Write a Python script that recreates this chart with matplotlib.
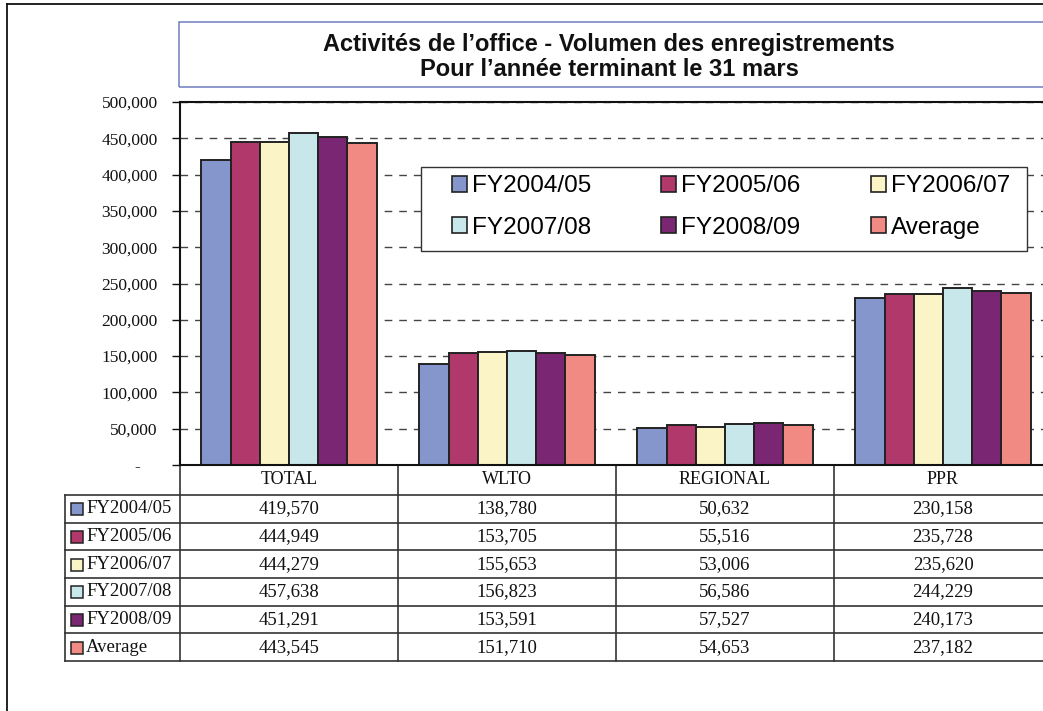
import numpy as np
import matplotlib
matplotlib.use('Agg')
import matplotlib.pyplot as plt
from matplotlib.patches import Patch, Rectangle
from matplotlib.lines import Line2D
from matplotlib.ticker import FuncFormatter, MultipleLocator
from matplotlib.transforms import blended_transform_factory

# donnees
categories = ['TOTAL', 'WLTO', 'REGIONAL', 'PPR']
series_names = ['FY2004/05', 'FY2005/06', 'FY2006/07', 'FY2007/08', 'FY2008/09', 'Average']
fy2004_05 = [419570, 138780, 50632, 230158]
fy2005_06 = [444949, 153705, 55516, 235728]
fy2006_07 = [444279, 155653, 53006, 235620]
fy2007_08 = [457638, 156823, 56586, 244229]
fy2008_09 = [451291, 153591, 57527, 240173]
average = [443545, 151710, 54653, 237182]
series_values = [fy2004_05, fy2005_06, fy2006_07, fy2007_08, fy2008_09, average]
colors = ['#8596cc', '#b0386b', '#faf4c6', '#c8e7ea', '#7a2673', '#f28a84']

title = 'Activités de l’office - Volumen des enregistrements\nPour l’année terminant le 31 mars'

SANS = 'Liberation Sans'
SERIF = 'Liberation Serif'
LINE = '#333333'

W, H = 1043, 711
def fx(px):
    return px / W
def fy(py):
    return 1 - py / H

fig = plt.figure(figsize=(W / 100, H / 100), dpi=100)
fig.patch.set_facecolor('white')

# cadre exterieur
fig.add_artist(Line2D([fx(7), fx(7)], [fy(4), fy(720)], color='#111111', lw=1.3))
fig.add_artist(Line2D([fx(7), fx(1060)], [fy(4), fy(4)], color='#111111', lw=1.3))

# titre
fig.add_artist(Rectangle((fx(179), fy(87)), (1060 - 179) / W, (87 - 22) / H,
                         transform=fig.transFigure, facecolor='none',
                         edgecolor='#6f7fbf', lw=1.1))
fig.text(fx(609), fy(57), title, ha='center', va='center', fontsize=17,
         fontweight='bold', family=SANS, linespacing=1.15, color='#111111')

ax = fig.add_axes([fx(180), fy(465), (1052 - 180) / W, (465 - 102) / H])

n = len(series_names)
width = 0.134
x = np.arange(len(categories))
for i, (name, vals) in enumerate(zip(series_names, series_values)):
    ax.bar(x + (i - (n - 1) / 2) * width, vals, width, color=colors[i],
           edgecolor='#222222', linewidth=1.4, zorder=2, label=name)

ax.set_xlim(-0.5, len(categories) - 0.5)
ax.set_ylim(0, 500000)
ax.yaxis.set_major_locator(MultipleLocator(50000))
ax.yaxis.set_major_formatter(FuncFormatter(lambda v, p: '-    ' if v == 0 else f'{v:,.0f}'))
ax.set_xticks([])
ax.tick_params(axis='y', length=6, width=1, pad=10, labelsize=12.5, colors='#111111')
for lab in ax.get_yticklabels():
    lab.set_family(SERIF)
ax.set_axisbelow(True)
ax.yaxis.grid(True, color='#444444', lw=1.0, dashes=(5.5, 5))
for s in ['left', 'top', 'bottom']:
    ax.spines[s].set_color('#111111')
    ax.spines[s].set_linewidth(1.5)
ax.spines['right'].set_visible(False)

# legende (3 colonnes, remplie ligne par ligne)
ax.add_patch(Rectangle((fx(421), fy(251)), (1027 - 421) / W, (251 - 167) / H,
                       transform=fig.transFigure, facecolor='white',
                       edgecolor=LINE, lw=1.0, zorder=4, clip_on=False))
handles = [Patch(facecolor=c, edgecolor='#222222', lw=1.2) for c in colors]
order = [0, 3, 1, 4, 2, 5]
ax.legend([handles[k] for k in order], [series_names[k] for k in order],
          ncol=3, loc='center',
          bbox_to_anchor=(fx(731), fy(207)), bbox_transform=fig.transFigure,
          frameon=False, prop={'family': SANS, 'size': 17.5},
          handlelength=0.62, handleheight=0.62, handletextpad=0.2,
          columnspacing=2.9, labelspacing=0.8)

# tableau de donnees
tr = blended_transform_factory(ax.transData, fig.transFigure)
head_top, head_bot, tab_bot = 465, 495, 661
row_h = (tab_bot - head_bot) / n
bounds = np.arange(len(categories) + 1) - 0.5
for b in bounds:
    ax.plot([b, b], [fy(head_top), fy(tab_bot)], transform=tr, clip_on=False,
            color=LINE, lw=1.2)
for k in range(n + 1):
    yy = fy(head_bot + k * row_h)
    ax.plot([fx(65), fx(1060)], [yy, yy], transform=fig.transFigure,
            clip_on=False, color=LINE, lw=1.2)
ax.plot([fx(65), fx(65)], [fy(head_bot), fy(tab_bot)], transform=fig.transFigure,
        clip_on=False, color=LINE, lw=1.2)

for i, cat in enumerate(categories):
    ax.text(i, fy((head_top + head_bot) / 2), cat, transform=tr, ha='center',
            va='center', family=SERIF, fontsize=13, color='#111111')

for r, (name, vals) in enumerate(zip(series_names, series_values)):
    yc = head_bot + (r + 0.5) * row_h
    for i, v in enumerate(vals):
        ax.text(i, fy(yc), f'{v:,}', transform=tr, ha='center', va='center',
                family=SERIF, fontsize=13.5, color='#111111')
    ax.add_patch(Rectangle((fx(71), fy(yc + 6.5)), 12 / W, 12 / H,
                           transform=fig.transFigure, facecolor=colors[r],
                           edgecolor='#222222', lw=1.1, clip_on=False))
    ax.text(fx(86), fy(yc), name, transform=fig.transFigure, ha='left',
            va='center', family=SERIF, fontsize=13.5, color='#111111')

fig.savefig('out.png', dpi=100)
